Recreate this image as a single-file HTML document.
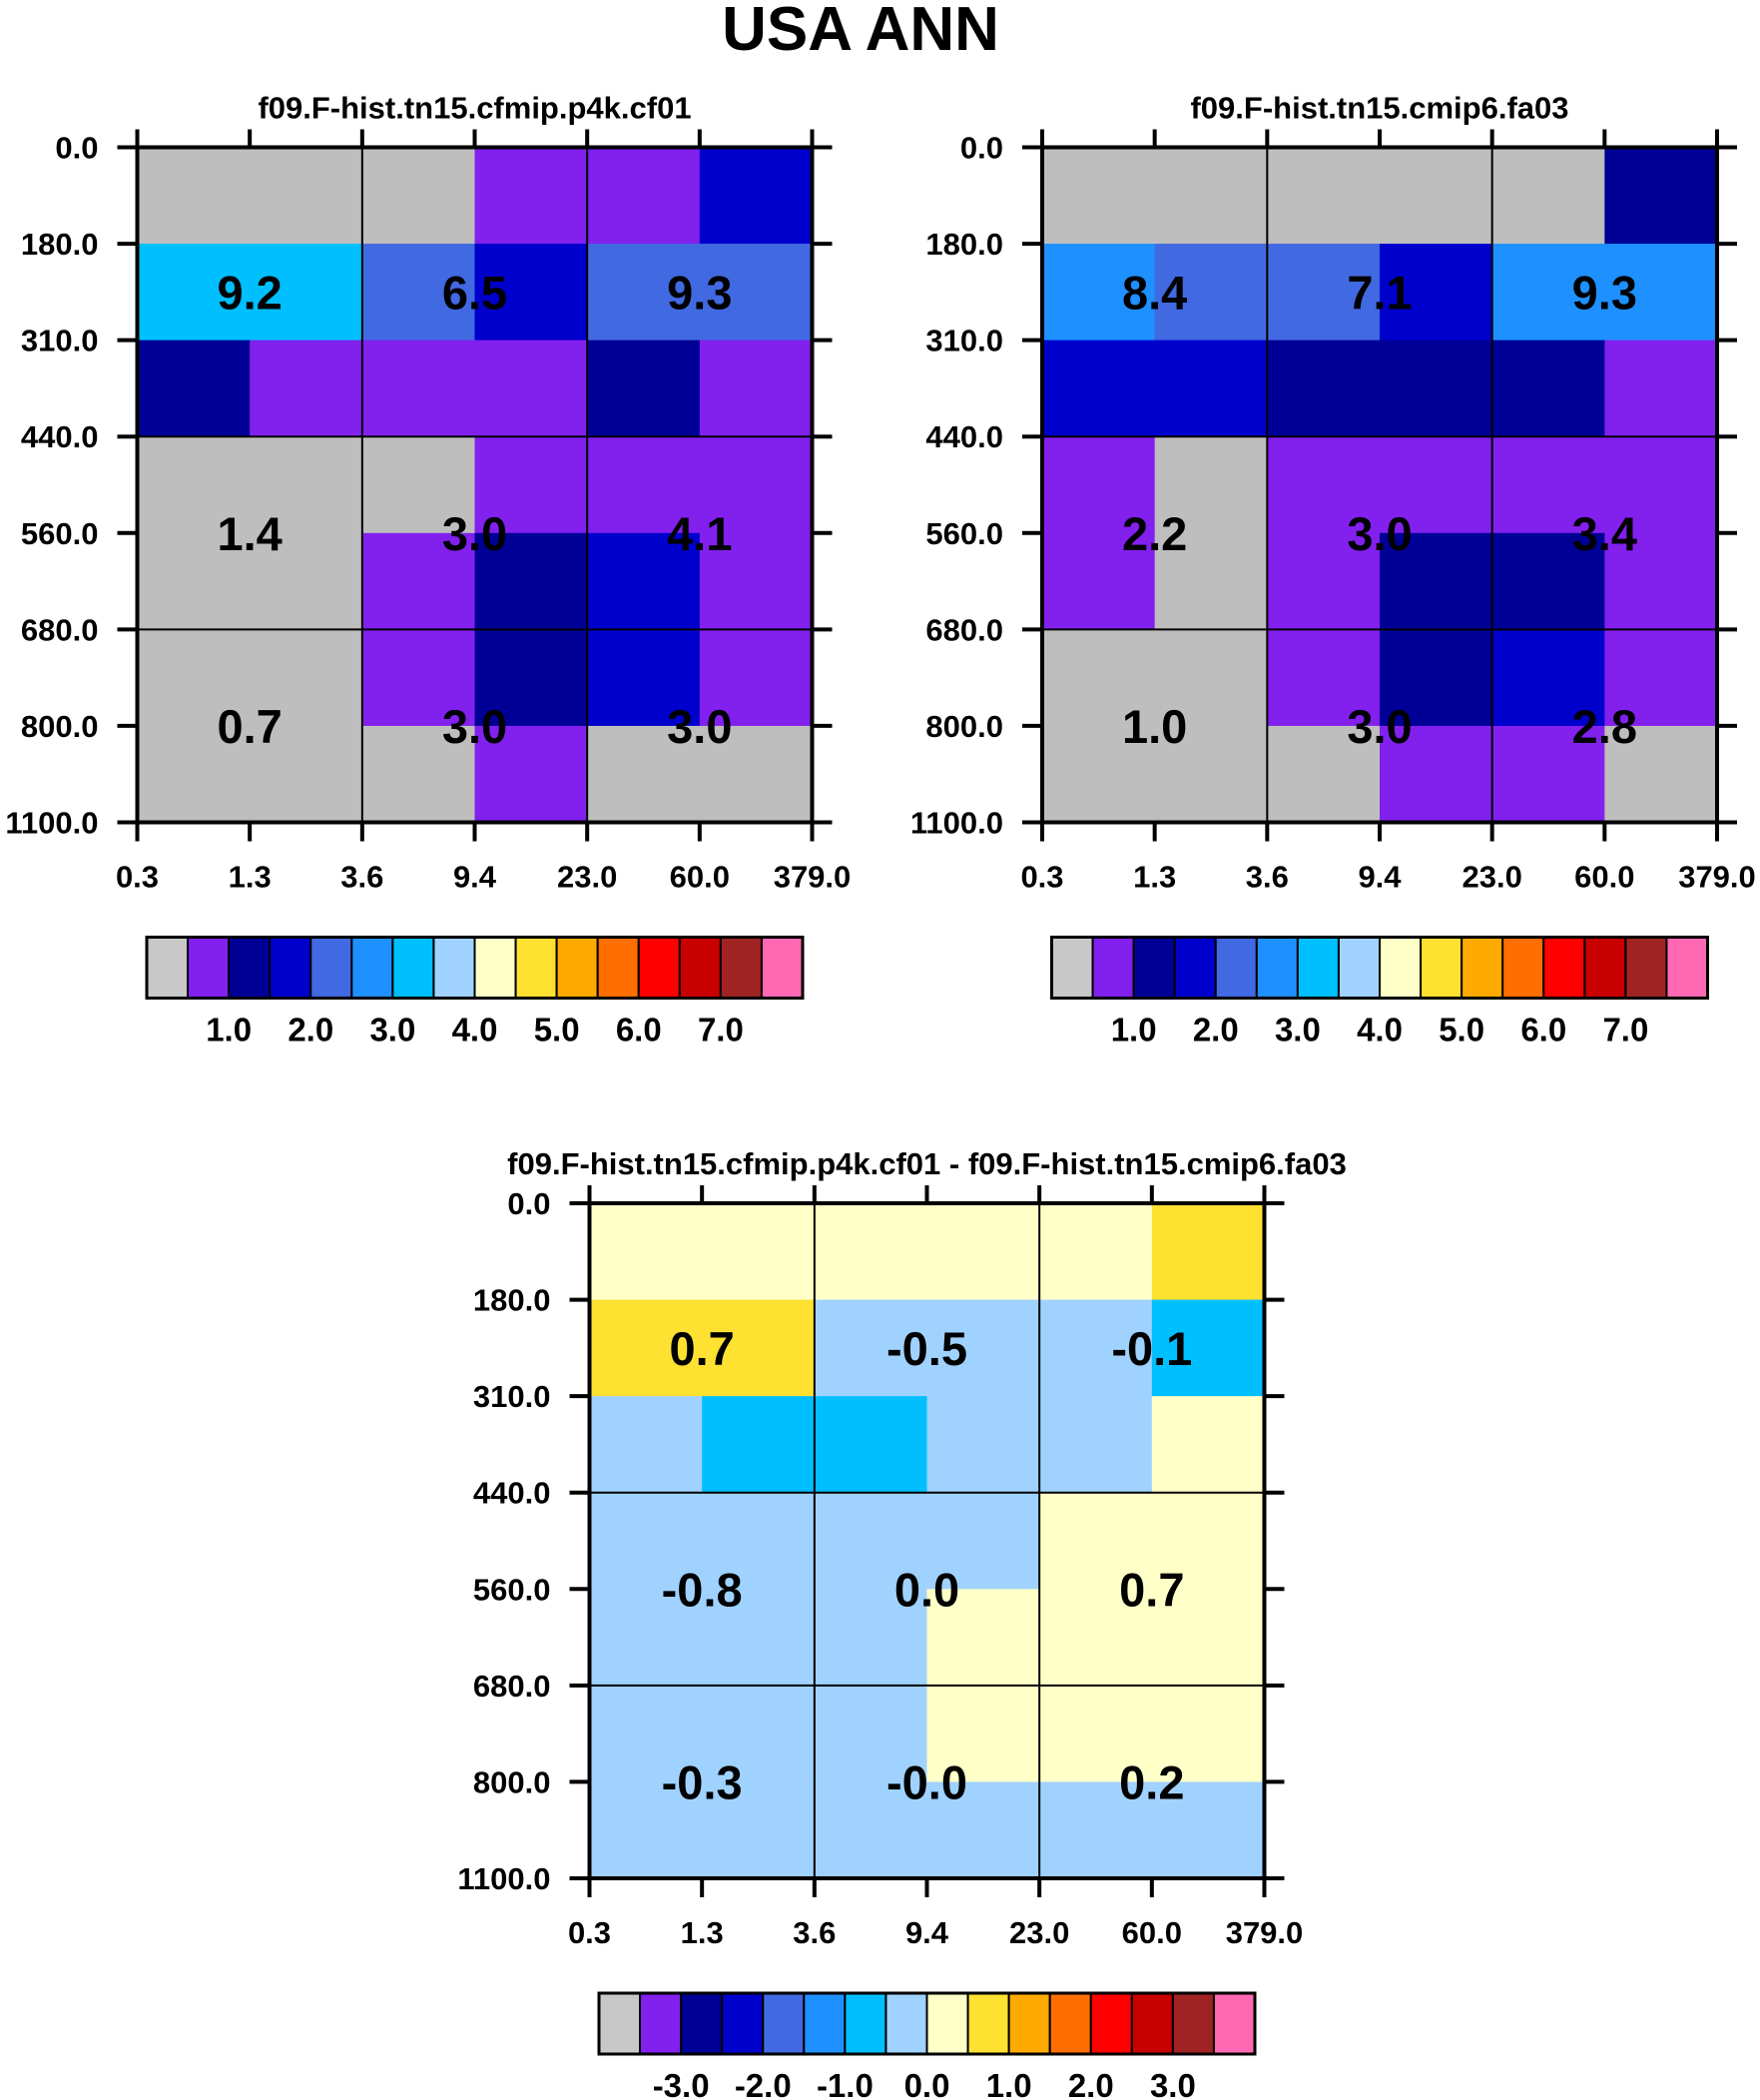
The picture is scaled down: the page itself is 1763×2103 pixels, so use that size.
<!DOCTYPE html>
<html><head><meta charset="utf-8">
<style>
html,body{margin:0;padding:0;background:#fff;}
svg{display:block;font-family:"Liberation Sans",Arial,sans-serif;font-weight:bold;}
</style></head>
<body>
<svg id="fig" width="1763" height="2103" viewBox="0 0 1763 2103" xmlns="http://www.w3.org/2000/svg">
<rect width="1763" height="2103" fill="#fff"/>
<text x="862" y="50" text-anchor="middle" font-size="62">USA ANN</text>
</svg>
<script>
// ---- data ----
const xTickLabels = ["0.3","1.3","3.6","9.4","23.0","60.0","379.0"];
const yTickLabels = ["0.0","180.0","310.0","440.0","560.0","680.0","800.0","1100.0"];
const palette = ["#bebebe","#8220ee","#000096","#0000cd","#4169e1","#1e90ff","#00bfff","#a0d2ff","#ffffc8","#ffe132","#ffaa00","#ff6e00","#ff0000","#c80000","#a02323","#ff69b4"];
const cbBarColors = ["#c8c8c8","#8220ee","#000096","#0000cd","#4169e1","#1e90ff","#00bfff","#a0d2ff","#ffffc8","#ffe132","#ffaa00","#ff6e00","#ff0000","#c80000","#a02323","#ff69b4"];
const cbLabelsAbs = ["1.0","2.0","3.0","4.0","5.0","6.0","7.0"];
const cbLabelsDiff = ["-3.0","-2.0","-1.0","0.0","1.0","2.0","3.0"];
// cell values: 7 pressure rows x 6 tau columns
const cellsP4k = [
 [0.25,0.25,0.25,0.75,0.75,1.75],
 [3.25,3.25,2.25,1.75,2.25,2.25],
 [1.25,0.75,0.75,0.75,1.25,0.75],
 [0.25,0.25,0.25,0.75,0.75,0.75],
 [0.25,0.25,0.75,1.25,1.75,0.75],
 [0.25,0.25,0.75,1.25,1.75,0.75],
 [0.25,0.25,0.25,0.75,0.25,0.25]];
const cellsCmip6 = [
 [0.25,0.25,0.25,0.25,0.25,1.25],
 [2.75,2.25,2.25,1.75,2.75,2.75],
 [1.75,1.75,1.25,1.25,1.25,0.75],
 [0.75,0.25,0.75,0.75,0.75,0.75],
 [0.75,0.25,0.75,1.25,1.25,0.75],
 [0.25,0.25,0.75,1.25,1.75,0.75],
 [0.25,0.25,0.25,0.75,0.75,0.25]];
const cellsDiff = [
 [0.25,0.25,0.25,0.25,0.25,0.75],
 [0.75,0.75,-0.25,-0.25,-0.25,-0.75],
 [-0.25,-0.75,-0.75,-0.25,-0.25,0.25],
 [-0.25,-0.25,-0.25,-0.25,0.25,0.25],
 [-0.25,-0.25,-0.25,0.25,0.25,0.25],
 [-0.25,-0.25,-0.25,0.25,0.25,0.25],
 [-0.25,-0.25,-0.25,-0.25,-0.25,-0.25]];
const sumP4k = ["9.2","6.5","9.3","1.4","3.0","4.1","0.7","3.0","3.0"];
const sumCmip6 = ["8.4","7.1","9.3","2.2","3.0","3.4","1.0","3.0","2.8"];
const sumDiff = ["0.7","-0.5","-0.1","-0.8","0.0","0.7","-0.3","-0.0","0.2"];
// summary label positions in grid units (column boundary, row position)
const sumCols = [1,3,5];
const sumRows = [1.5,4,6];

const NS="http://www.w3.org/2000/svg";
const svg=document.getElementById('fig');
function el(tag,attrs,parent){const e=document.createElementNS(NS,tag);for(const k in attrs)e.setAttribute(k,attrs[k]);(parent||svg).appendChild(e);return e;}

function panel(name,x0,y0,title,cells,sums,levelFn,cbLabels){
  const W=676,H=676,nc=6,nr=7;
  const g=el('g',{});
  
  
  const sx=i=>x0+i*W/nc, sy=j=>y0+j*H/nr;
  const t=el('text',{x:x0+W/2,y:y0-29,'text-anchor':'middle','font-size':31},g);
  t.textContent=title;
  
  
  cells.forEach((row,j)=>row.forEach((v,i)=>{
    const r=el('rect',{x:sx(i),y:sy(j),width:W/nc+0.6,height:H/nr+0.6,fill:palette[levelFn(v)]},g);
    
    
  }));
  [2,4].forEach(i=>el('line',{x1:sx(i),x2:sx(i),y1:y0,y2:y0+H,stroke:'#000','stroke-width':2},g));
  [3,5].forEach(j=>el('line',{x1:x0,x2:x0+W,y1:sy(j),y2:sy(j),stroke:'#000','stroke-width':2},g));
  el('rect',{x:x0,y:y0,width:W,height:H,fill:'none',stroke:'#000','stroke-width':4},g);
  for(let i=0;i<=nc;i++){
    el('line',{x1:sx(i),x2:sx(i),y1:y0-18,y2:y0,stroke:'#000','stroke-width':4},g);
    el('line',{x1:sx(i),x2:sx(i),y1:y0+H,y2:y0+H+19,stroke:'#000','stroke-width':4},g);
    const tl=el('text',{x:sx(i),y:y0+H+65,'text-anchor':'middle','font-size':31},g);
    tl.textContent=xTickLabels[i];
    
    
  }
  for(let j=0;j<=nr;j++){
    el('line',{x1:x0-20,x2:x0,y1:sy(j),y2:sy(j),stroke:'#000','stroke-width':4},g);
    el('line',{x1:x0+W,x2:x0+W+20,y1:sy(j),y2:sy(j),stroke:'#000','stroke-width':4},g);
    const tl=el('text',{x:x0-39,y:sy(j)+11,'text-anchor':'end','font-size':31},g);
    tl.textContent=yTickLabels[j];
    
    
  }
  sums.forEach((s,k)=>{
    const tx=el('text',{x:sx(sumCols[k%3]),y:sy(sumRows[Math.floor(k/3)])+17,'text-anchor':'middle','font-size':47},g);
    tx.textContent=s;
    
    
  });
  const cx=x0+9.5,cy=y0+H+115,cw=657,ch=61,bw=cw/16;
  const cb=el('g',{},g);
  
  
  cbBarColors.forEach((c,k)=>{
    const b=el('rect',{x:cx+k*bw,y:cy,width:bw,height:ch,fill:c,stroke:'#000','stroke-width':2},cb);
    
    
  });
  el('rect',{x:cx,y:cy,width:cw,height:ch,fill:'none',stroke:'#000','stroke-width':3},cb);
  cbLabels.forEach((s,k)=>{
    const l=el('text',{x:cx+(2+2*k)*bw,y:cy+ch+43,'text-anchor':'middle','font-size':33},cb);
    l.textContent=s;
    
    
  });
}
const absLevel=v=>Math.max(0,Math.min(15,Math.floor(v/0.5)));
const diffLevel=v=>Math.max(0,Math.min(15,Math.floor(v/0.5)+8));
panel('panel-p4k',137.5,147.5,'f09.F-hist.tn15.cfmip.p4k.cf01',cellsP4k,sumP4k,absLevel,cbLabelsAbs);
panel('panel-cmip6',1044,147.5,'f09.F-hist.tn15.cmip6.fa03',cellsCmip6,sumCmip6,absLevel,cbLabelsAbs);
panel('panel-difference',590.5,1205,'f09.F-hist.tn15.cfmip.p4k.cf01 - f09.F-hist.tn15.cmip6.fa03',cellsDiff,sumDiff,diffLevel,cbLabelsDiff);
</script>
</body></html>
